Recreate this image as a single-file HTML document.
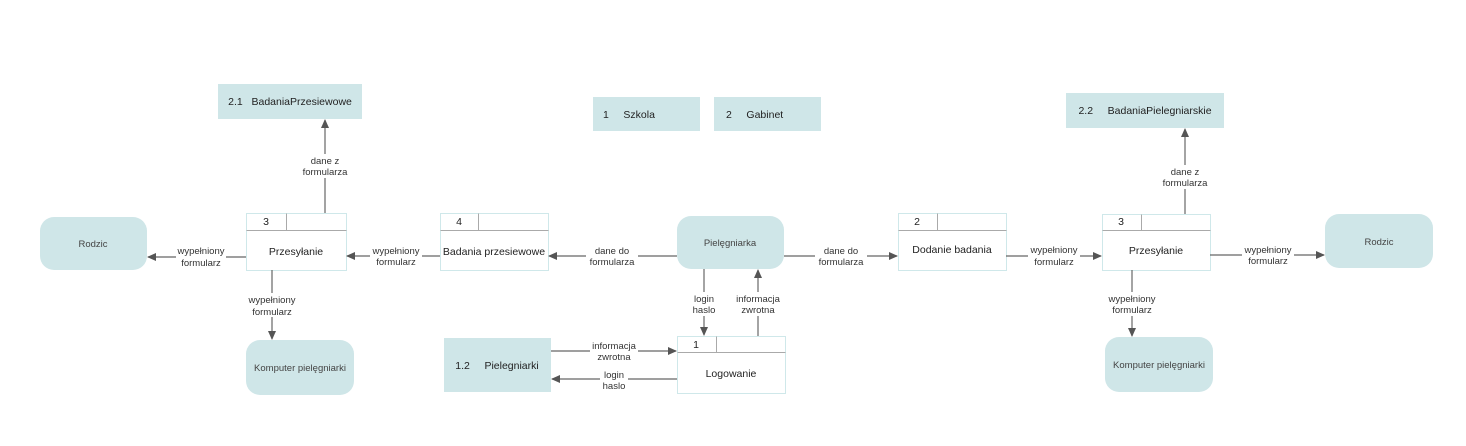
<!DOCTYPE html>
<html><head><meta charset="utf-8"><style>
html,body{margin:0;padding:0;background:#fff;}
svg{display:block;font-family:"Liberation Sans",sans-serif;}
.l{font-size:9.5px;fill:#333;text-anchor:middle;}
.t{font-size:10.5px;fill:#222;text-anchor:middle;}
.e{font-size:9.5px;fill:#444;text-anchor:middle;}
</style></head><body>
<svg width="1466" height="446" viewBox="0 0 1466 446" xmlns="http://www.w3.org/2000/svg">
<defs><marker id="a" markerWidth="10" markerHeight="10" refX="8" refY="4" orient="auto" markerUnits="userSpaceOnUse"><path d="M0,0 L9,4 L0,8 z" fill="#555"/></marker></defs>
<g fill="#cfe6e8">
<rect x="218" y="84" width="144" height="35"/>
<rect x="593" y="97" width="107" height="34"/>
<rect x="714" y="97" width="107" height="34"/>
<rect x="1066" y="93" width="158" height="35"/>
<rect x="444" y="338" width="107" height="54"/>
<rect x="40" y="217" width="107" height="53" rx="14"/>
<rect x="677" y="216" width="107" height="53" rx="14"/>
<rect x="1325" y="214" width="108" height="54" rx="14"/>
<rect x="246" y="340" width="108" height="55" rx="14"/>
<rect x="1105" y="337" width="108" height="55" rx="14"/>
</g>
<text class="t" x="290" y="105">2.1&#160;&#160;&#160;BadaniaPrzesiewowe</text>
<text class="t" x="630" y="118" style="text-anchor:start" dx="-27">1&#160;&#160;&#160;&#160;&#160;Szkola</text>
<text class="t" x="720" y="118" style="text-anchor:start" dx="6">2&#160;&#160;&#160;&#160;&#160;Gabinet</text>
<text class="t" x="1145" y="114">2.2&#160;&#160;&#160;&#160;&#160;BadaniaPielegniarskie</text>
<text class="t" x="497" y="369">1.2&#160;&#160;&#160;&#160;&#160;Pielegniarki</text>
<text class="e" x="93" y="247">Rodzic</text>
<text class="e" x="730" y="246">Pielęgniarka</text>
<text class="e" x="1379" y="245">Rodzic</text>
<text class="e" x="300" y="371">Komputer pielęgniarki</text>
<text class="e" x="1159" y="368">Komputer pielęgniarki</text>
<g fill="#fff" stroke="#cfe8ea" stroke-width="1">
<rect x="246.5" y="213.5" width="100" height="57"/><path d="M246.5 230.5H346.5M286.5 213.5V230.5"/>
<rect x="440.5" y="213.5" width="108" height="57"/><path d="M440.5 230.5H548.5M478.5 213.5V230.5"/>
<rect x="898.5" y="213.5" width="108" height="57"/><path d="M898.5 230.5H1006.5M937.5 213.5V230.5"/>
<rect x="1102.5" y="214.5" width="108" height="56"/><path d="M1102.5 230.5H1210.5M1141.5 214.5V230.5"/>
<rect x="677.5" y="336.5" width="108" height="57"/><path d="M677.5 352.5H785.5M716.5 336.5V352.5"/>
</g>
<g stroke="#aaa" stroke-width="1"><path d="M246.5 230.5H346.5M286.5 213.5V230.5M440.5 230.5H548.5M478.5 213.5V230.5M898.5 230.5H1006.5M937.5 213.5V230.5M1102.5 230.5H1210.5M1141.5 214.5V230.5M677.5 352.5H785.5M716.5 336.5V352.5"/></g>
<text class="t" x="266" y="225">3</text><text class="t" x="459" y="225">4</text><text class="t" x="917" y="225">2</text><text class="t" x="1121" y="225">3</text><text class="t" x="696" y="348">1</text>
<text class="t" x="296" y="255">Przesyłanie</text>
<text class="t" x="494" y="255">Badania przesiewowe</text>
<text class="t" x="952" y="253">Dodanie badania</text>
<text class="t" x="1156" y="254">Przesyłanie</text>
<text class="t" x="731" y="377">Logowanie</text>
<g stroke="#666" stroke-width="1.2" fill="none" marker-end="url(#a)">
<path d="M325 213V120"/>
<path d="M246 257H148"/>
<path d="M440 256H347"/>
<path d="M677 256H549"/>
<path d="M784 256H897"/>
<path d="M1006 256H1101"/>
<path d="M1210 255H1324"/>
<path d="M1185 214V129"/>
<path d="M1132 270V336"/>
<path d="M272 270V339"/>
<path d="M704 269V335"/>
<path d="M758 336V270"/>
<path d="M551 351H676"/>
<path d="M677 379H552"/>
</g>
<g fill="#fff">
<rect x="300" y="154" width="50" height="24"/>
<rect x="176" y="244" width="50" height="24"/>
<rect x="370" y="244" width="52" height="24"/>
<rect x="586" y="244" width="52" height="24"/>
<rect x="815" y="244" width="52" height="24"/>
<rect x="1028" y="244" width="52" height="24"/>
<rect x="1242" y="244" width="52" height="24"/>
<rect x="1158" y="165" width="54" height="24"/>
<rect x="1104" y="292" width="56" height="24"/>
<rect x="246" y="293" width="52" height="24"/>
<rect x="690" y="292" width="28" height="24"/>
<rect x="734" y="292" width="48" height="24"/>
<rect x="590" y="339" width="48" height="24"/>
<rect x="600" y="368" width="28" height="24"/>
</g>
<g class="l">
<text x="325" y="164">dane z</text><text x="325" y="175">formularza</text>
<text x="201" y="254">wypełniony</text><text x="201" y="266">formularz</text>
<text x="396" y="254">wypełniony</text><text x="396" y="265">formularz</text>
<text x="612" y="254">dane do</text><text x="612" y="265">formularza</text>
<text x="841" y="254">dane do</text><text x="841" y="265">formularza</text>
<text x="1054" y="253">wypełniony</text><text x="1054" y="265">formularz</text>
<text x="1268" y="253">wypełniony</text><text x="1268" y="264">formularz</text>
<text x="1185" y="175">dane z</text><text x="1185" y="186">formularza</text>
<text x="1132" y="302">wypełniony</text><text x="1132" y="313">formularz</text>
<text x="272" y="303">wypełniony</text><text x="272" y="315">formularz</text>
<text x="704" y="302">login</text><text x="704" y="313">haslo</text>
<text x="758" y="302">informacja</text><text x="758" y="313">zwrotna</text>
<text x="614" y="349">informacja</text><text x="614" y="360">zwrotna</text>
<text x="614" y="378">login</text><text x="614" y="389">haslo</text>
</g>
</svg>
</body></html>
